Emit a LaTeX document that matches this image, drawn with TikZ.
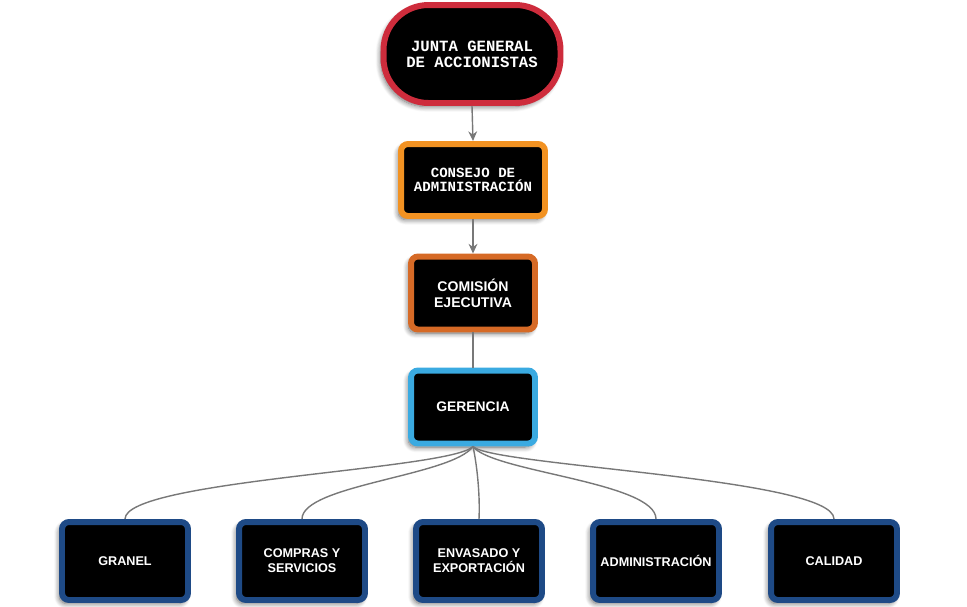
\documentclass[tikz,border=0pt]{standalone}
\usepackage{fontspec}
\setmainfont{Liberation Sans}
\newfontfamily\monobold{Liberation Mono}
\usetikzlibrary{arrows.meta,shadows.blur}
\definecolor{juntared}{RGB}{206,44,60}
\definecolor{consejoorange}{RGB}{242,146,34}
\definecolor{comisionorange}{RGB}{214,106,38}
\definecolor{gerenciablue}{RGB}{58,170,225}
\definecolor{deptblue}{RGB}{30,74,134}
\definecolor{linkgray}{RGB}{120,120,120}
\tikzset{
  box/.style={draw, fill=black, text=white, line width=3.4pt, rounded corners=0.14cm,
    align=center, inner sep=0pt,
    blur shadow={shadow xshift=-1.5pt, shadow yshift=-2pt, shadow blur steps=8, shadow blur radius=3pt, shadow opacity=60}},
  juntabox/.style={box, draw=juntared, rounded corners=0.9cm, minimum width=3.54cm, minimum height=1.96cm,
    font=\monobold\bfseries\fontsize{8.9}{9.2}\selectfont},
  consejobox/.style={box, draw=consejoorange, minimum width=2.88cm, minimum height=1.44cm,
    font=\monobold\bfseries\fontsize{8}{8.2}\selectfont},
  comisionbox/.style={box, draw=comisionorange, minimum width=2.48cm, minimum height=1.46cm,
    font=\bfseries\fontsize{8}{9}\selectfont},
  gerenciabox/.style={box, draw=gerenciablue, minimum width=2.48cm, minimum height=1.46cm,
    font=\bfseries\fontsize{7.9}{9}\selectfont},
  deptbox/.style={box, draw=deptblue, minimum width=2.52cm, minimum height=1.56cm,
    font=\bfseries\fontsize{7.2}{8.5}\selectfont},
  link/.style={draw=linkgray, line width=0.8pt},
  arrowlink/.style={link, -{Stealth[length=5.5pt,width=5pt]}}
}
\begin{document}
\begin{tikzpicture}[x=0.02cm, y=-0.02cm]
      \useasboundingbox (0, 0) rectangle (967, 606);

      \node[juntabox] (junta) at (472, 54){JUNTA GENERAL\\DE ACCIONISTAS};
      \node[consejobox] (consejo) at (473, 180){CONSEJO DE\\ADMINISTRACIÓN};
      \node[comisionbox] (comision) at (473, 293){COMISIÓN\\EJECUTIVA};
      \node[gerenciabox] (gerencia) at (473, 407){GERENCIA};

        \node[deptbox] (granel) at (125, 561){GRANEL};
        \node[deptbox] (compras) at (302, 561){COMPRAS Y\\SERVICIOS};
        \node[deptbox] (envasado) at (479, 561){ENVASADO Y\\EXPORTACIÓN};
        \node[deptbox] (admin) at (656, 561){ADMINISTRACIÓN};
        \node[deptbox] (calidad) at (834, 561){CALIDAD};

      \draw[arrowlink] (junta.south) -- (consejo.north);
      \draw[arrowlink] (consejo.south) -- (comision.north);
      \draw[link] (comision.south) -- (gerencia.north);

        \draw[link] (gerencia.south) .. controls (450, 470) and (125, 480) .. (granel.north);
        \draw[link] (gerencia.south) .. controls (452, 476) and (302, 485) .. (compras.north);
        \draw[link] (gerencia.south) .. controls (478, 470) and (480, 500) .. (envasado.north);
        \draw[link] (gerencia.south) .. controls (492, 472) and (656, 482) .. (admin.north);
        \draw[link] (gerencia.south) .. controls (492, 466) and (834, 478) .. (calidad.north);

    \end{tikzpicture}
\end{document}
